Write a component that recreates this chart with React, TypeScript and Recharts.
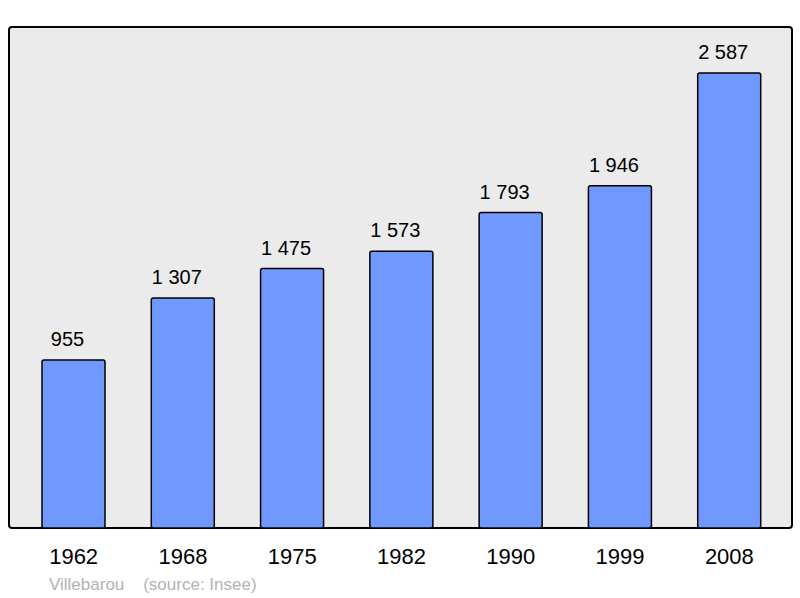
import React from 'react';
import { BarChart, Bar, XAxis, YAxis, CartesianGrid, LabelList, usePlotArea } from 'recharts';

const years = ['1962', '1968', '1975', '1982', '1990', '1999', '2008'];
const population = [955, 1307, 1475, 1573, 1793, 1946, 2587];
const footerPlace = 'Villebarou';
const footerSource = '(source: Insee)';

const data = years.map((y, i) => ({ year: y, pop: population[i] }));

const fmt = (v: any) => String(v).replace(/\B(?=(\d{3})+(?!\d))/g, '\u00a0');

function Frame() {
  const area = usePlotArea();
  if (!area) return null;
  return (
    <rect
      x={area.x}
      y={area.y}
      width={area.width}
      height={area.height}
      rx={3}
      ry={3}
      fill="none"
      stroke="#000"
      strokeWidth={2}
    />
  );
}

export default function App() {
  return (
    <div style={{ position: 'absolute', left: 0, top: 0, width: 800, height: 598, fontFamily: '"Liberation Sans", Arial, sans-serif' }}>
      <BarChart
        width={800}
        height={598}
        data={data}
        margin={{ top: 27, right: 8, left: 9, bottom: 40 }}
        barSize={63}
      >
        <CartesianGrid fill="#ebebeb" horizontal={false} vertical={false} stroke="none" />
        <XAxis
          dataKey="year"
          height={30}
          padding={{ left: 10, right: 8 }}
          axisLine={false}
          tickLine={false}
          tick={{ fill: '#000', fontSize: 22, fontFamily: '"Liberation Sans", Arial, sans-serif', dy: 12 }}
          interval={0}
        />
        <YAxis hide domain={[0, 2848]} />
        <Bar dataKey="pop" fill="#7099ff" stroke="#000" strokeWidth={1.5} radius={2} isAnimationActive={false}>
          <LabelList
            dataKey="pop"
            position="top"
            offset={14}
            formatter={fmt}
            style={{ fill: '#000', fontSize: 20, fontFamily: '"Liberation Sans", Arial, sans-serif', transform: 'translateX(-6px)' }}
          />
        </Bar>
        <Frame />
      </BarChart>
      <div style={{ position: 'absolute', left: 49, top: 575, fontSize: 17, color: '#b3b3b3', whiteSpace: 'pre' }}>
        {footerPlace + '    ' + footerSource}
      </div>
    </div>
  );
}
